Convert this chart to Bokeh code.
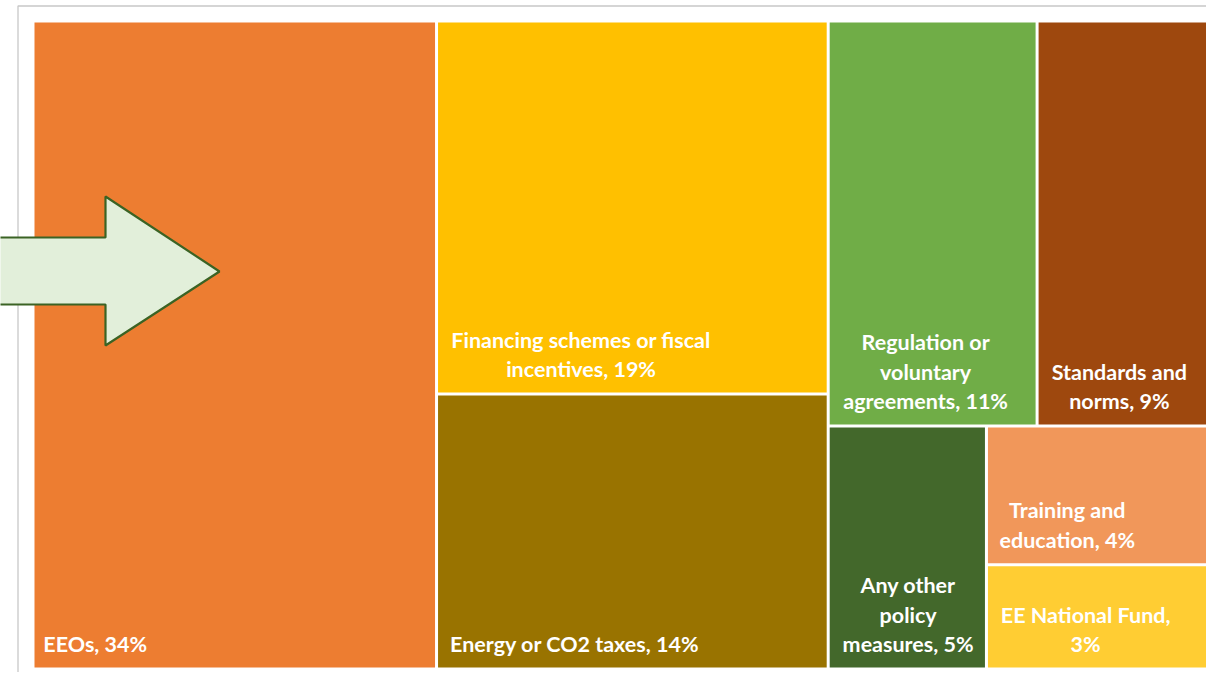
from bokeh.plotting import figure
from bokeh.models import Range1d, ColumnDataSource
from bokeh.core.properties import value
from bokeh.embed import file_html
from bokeh.resources import INLINE

# ---------------- data ----------------
categories = ["EEOs", "Financing schemes or fiscal incentives", "Energy or CO2 taxes",
              "Regulation or voluntary agreements", "Standards and norms",
              "Any other policy measures", "Training and education", "EE National Fund"]
shares = [34, 19, 14, 11, 9, 5, 4, 3]
label_lines = [["EEOs, 34%"],
               ["Financing schemes or fiscal", "incentives, 19%"],
               ["Energy or CO2 taxes, 14%"],
               ["Regulation or", "voluntary", "agreements, 11%"],
               ["Standards and", "norms, 9%"],
               ["Any other", "policy", "measures, 5%"],
               ["Training and", "education, 4%"],
               ["EE National Fund,", "3%"]]
# nesting of the treemap (indices into the lists above)
tree = [0, [1, 2], [[3, 4], [5, [6, 7]]]]

# ---------------- styles ----------------
colors = ["#ED7D31", "#FFC000", "#997300", "#70AD47", "#9E480E", "#43682B", "#F1975A", "#FFCD33"]
# label anchor: (align, fraction of cell width)
label_anchor = [("left", 0.022), ("center", 0.368), ("left", 0.031), ("center", 0.466),
                ("center", 0.481), ("center", 0.505), ("center", 0.363), ("center", 0.447)]

W, H = 1206, 672
# treemap region in picture pixels
RX0, RX1, RY0, RY1 = 32.5, 1207.5, 20.5, 668.5
RW, RH = RX1 - RX0, RY1 - RY0
GAP = 3.0


def px_x(px):
    return (px - RX0) / RW


def px_y(py):
    return (RY1 - py) / RH


def total(node):
    if isinstance(node, list):
        return sum(total(n) for n in node)
    return shares[node]


cells = {}


def layout(node, x0, y0, x1, y1, depth):
    # y0 bottom, y1 top in unit coords
    if not isinstance(node, list):
        cells[node] = (x0, y0, x1, y1)
        return
    t = total(node)
    if depth % 2 == 0:  # split along x
        cx = x0
        for n in node:
            w = (x1 - x0) * total(n) / t
            layout(n, cx, y0, cx + w, y1, depth + 1)
            cx += w
    else:  # split along y, from top
        cy = y1
        for n in node:
            h = (y1 - y0) * total(n) / t
            layout(n, x0, cy - h, x1, cy, depth + 1)
            cy -= h


layout(tree, 0.0, 0.0, 1.0, 1.0, 0)

gx = GAP / 2 / RW
gy = GAP / 2 / RH
idx = list(range(len(shares)))
src = ColumnDataSource(dict(
    left=[cells[i][0] + gx for i in idx],
    right=[cells[i][2] - gx for i in idx],
    bottom=[cells[i][1] + gy for i in idx],
    top=[cells[i][3] - gy for i in idx],
    color=colors,
    name=categories,
    share=shares,
))

p = figure(width=W, height=H, output_backend="svg", toolbar_location=None,
           x_range=Range1d(px_x(0), px_x(W)), y_range=Range1d(px_y(H), px_y(0)),
           min_border=0, min_border_left=0, min_border_right=0, min_border_top=0,
           min_border_bottom=0)
p.axis.visible = False
p.grid.visible = False
p.outline_line_color = None
p.background_fill_color = "white"
p.border_fill_color = "white"

# outer chart frame (light grey)
p.line([px_x(17.5), px_x(17.5), px_x(1230)], [px_y(700), px_y(5.5), px_y(5.5)],
       line_color="#C8C8C8", line_width=1.3)

p.quad(left="left", right="right", bottom="bottom", top="top", fill_color="color",
       line_color=None, source=src)

# labels
LINE_H = 29.5
BASE_OFF = 23.5
groups = {"left": dict(x=[], y=[], t=[]), "center": dict(x=[], y=[], t=[])}
for i in idx:
    x0, y0, x1, y1 = cells[i]
    l = x0 + gx
    r = x1 - gx
    align, frac = label_anchor[i]
    lx = l + (r - l) * frac
    n = len(label_lines[i])
    for k, line in enumerate(label_lines[i]):
        off_px = BASE_OFF + GAP / 2 + (n - 1 - k) * LINE_H
        groups[align]["x"].append(lx)
        groups[align]["y"].append(y0 + off_px / RH)
        groups[align]["t"].append(line)

for align, g in groups.items():
    p.text(x=g["x"], y=g["y"], text=g["t"], text_align=align, text_baseline="alphabetic",
           text_color="white", text_font=value("Lato"), text_font_style="bold",
           text_font_size="21.5px")

# arrow callout
ax = [-10, 105, 105, 219, 105, 105, -10]
ay = [237, 237, 196, 271, 345, 304, 304]
p.patch([px_x(v) for v in ax], [px_y(v) for v in ay], fill_color="#E2EFDA",
        line_color="#3B6324", line_width=2.2)

open("out.html", "w").write(file_html(p, INLINE))
